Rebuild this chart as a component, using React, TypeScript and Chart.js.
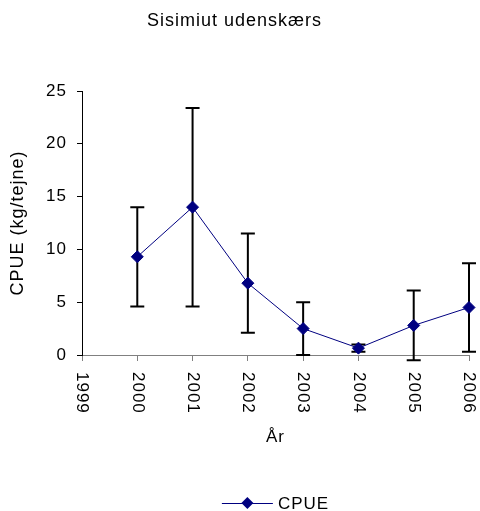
import React, { useEffect, useRef } from 'react';
import { Chart, registerables } from 'chart.js';

Chart.register(...registerables);

const years = ['1999', '2000', '2001', '2002', '2003', '2004', '2005', '2006'];
const cpue: (number | null)[] = [null, 9.3, 14.0, 6.8, 2.5, 0.65, 2.8, 4.5];
const cpueError: (number | null)[] = [null, 4.7, 9.4, 4.7, 2.5, 0.35, 3.3, 4.2];
const yMin = 0;
const yMax = 25;
const yStep = 5;
const chartTitle = 'Sisimiut udenskærs';
const xTitle = 'År';
const yTitle = 'CPUE (kg/tejne)';
const seriesLabel = 'CPUE';

const FONT = '"Liberation Sans", Arial, Helvetica, sans-serif';
const NAVY = '#000080';

const spacingPlugin = {
  id: 'spacing',
  beforeDraw(chart: any) {
    (chart.ctx as any).letterSpacing = '1px';
  },
};

const errorBarPlugin = {
  id: 'errorBars',
  beforeDatasetsDraw(chart: any) {
    const { ctx, scales } = chart;
    const xs = scales.x;
    const ys = scales.y;
    ctx.save();
    ctx.strokeStyle = '#000';
    ctx.lineWidth = 2;
    cpue.forEach((v, i) => {
      const e = cpueError[i];
      if (v == null || e == null) return;
      const x = xs.getPixelForValue(i);
      const yt = ys.getPixelForValue(v + e);
      const yb = ys.getPixelForValue(v - e);
      ctx.beginPath();
      ctx.moveTo(x, yt);
      ctx.lineTo(x, yb);
      ctx.moveTo(x - 7, yt);
      ctx.lineTo(x + 7, yt);
      ctx.moveTo(x - 7, yb);
      ctx.lineTo(x + 7, yb);
      ctx.stroke();
    });
    ctx.restore();
  },
};

const xLabelPlugin = {
  id: 'xLabels',
  afterDraw(chart: any) {
    const { ctx, scales } = chart;
    const xs = scales.x;
    ctx.save();
    ctx.font = `17px ${FONT}`;
    ctx.fillStyle = '#000';
    ctx.textAlign = 'left';
    ctx.textBaseline = 'middle';
    years.forEach((label, i) => {
      const x = xs.getPixelForValue(i);
      ctx.save();
      ctx.translate(x, xs.top + 17);
      ctx.rotate(Math.PI / 2);
      ctx.fillText(label, 0, 0);
      ctx.restore();
    });
    ctx.restore();
  },
};

const legendPlugin = {
  id: 'customLegend',
  afterDraw(chart: any) {
    const { ctx, chartArea } = chart;
    const ds = chart.data.datasets[0];
    ctx.save();
    ctx.font = `17px ${FONT}`;
    const tw = ctx.measureText(ds.label).width;
    const lineLen = 51;
    const gap = 5;
    const total = lineLen + gap + tw;
    const cx = (chartArea.left + chartArea.right) / 2;
    const x0 = cx - total / 2;
    const y = chart.height - 8;
    ctx.strokeStyle = NAVY;
    ctx.lineWidth = 1;
    ctx.beginPath();
    ctx.moveTo(x0, y + 0.5);
    ctx.lineTo(x0 + lineLen, y + 0.5);
    ctx.stroke();
    const mx = x0 + lineLen / 2;
    const r = 6;
    ctx.fillStyle = NAVY;
    ctx.beginPath();
    ctx.moveTo(mx, y - r);
    ctx.lineTo(mx + r, y);
    ctx.lineTo(mx, y + r);
    ctx.lineTo(mx - r, y);
    ctx.closePath();
    ctx.fill();
    ctx.fillStyle = '#000';
    ctx.textAlign = 'left';
    ctx.textBaseline = 'middle';
    ctx.fillText(ds.label, x0 + lineLen + gap, y + 1);
    ctx.restore();
  },
};

export default function App() {
  const ref = useRef<HTMLCanvasElement>(null);
  useEffect(() => {
    if (!ref.current) return;
    Chart.defaults.font.family = FONT;
    Chart.defaults.color = '#000';
    const chart = new Chart(ref.current, {
      type: 'line',
      data: {
        labels: years,
        datasets: [
          {
            label: seriesLabel,
            data: cpue,
            borderColor: NAVY,
            backgroundColor: NAVY,
            borderWidth: 1,
            pointStyle: 'rectRot',
            pointRadius: 6,
            pointBorderWidth: 1,
            pointBackgroundColor: NAVY,
            pointBorderColor: NAVY,
            tension: 0,
            clip: false as any,
          },
        ],
      },
      options: {
        responsive: false,
        animation: false,
        events: [],
        layout: { padding: { left: 0, right: 11, top: 0, bottom: 35 } },
        plugins: {
          legend: { display: false },
          tooltip: { enabled: false },
          title: {
            display: true,
            text: chartTitle,
            color: '#000',
            font: { size: 18, weight: 'normal' as any, family: FONT },
            padding: { top: 10, bottom: 59.4 },
          },
        },
        scales: {
          x: {
            type: 'category',
            offset: false,
            grid: {
              display: true,
              drawOnChartArea: false,
              drawTicks: true,
              tickLength: 6,
              color: '#808080',
            },
            border: { display: true, color: '#808080', width: 1 },
            ticks: { display: false },
            title: {
              display: true,
              text: xTitle,
              color: '#000',
              font: { size: 17, family: FONT },
              padding: { top: 0, bottom: 28 },
            },
            afterFit(scale: any) {
              scale.height = 121;
            },
          },
          y: {
            min: yMin,
            max: yMax,
            ticks: {
              stepSize: yStep,
              color: '#000',
              font: { size: 17, family: FONT },
              padding: 10,
            },
            grid: {
              display: true,
              drawOnChartArea: false,
              drawTicks: true,
              tickLength: 5,
              color: '#000',
            },
            border: { display: true, color: '#000', width: 1 },
            title: {
              display: true,
              text: yTitle,
              color: '#000',
              font: { size: 18, family: FONT },
              padding: { top: 7, bottom: 0 },
            },
            afterFit(scale: any) {
              scale.width = 82;
            },
          },
        },
      },
      plugins: [spacingPlugin, errorBarPlugin, xLabelPlugin, legendPlugin],
    });
    return () => chart.destroy();
  }, []);
  return (
    <canvas
      ref={ref}
      width={480}
      height={511}
      style={{ position: 'absolute', left: 0, top: 0, display: 'block' }}
    />
  );
}
